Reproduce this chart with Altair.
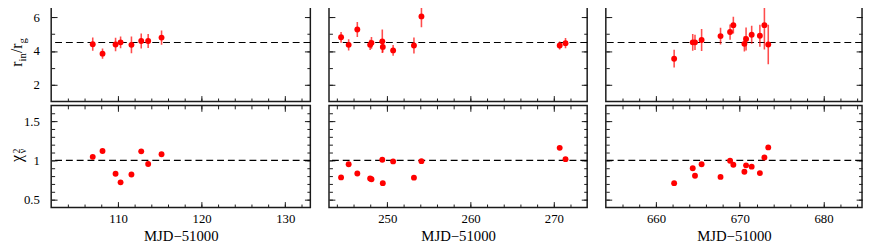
import altair as alt
import pandas as pd

FONT = "Liberation Serif"
RED = "#ff0000"
INK = "#1a1a1a"

# ---------------- data ----------------
mjd_1 = [106.97, 108.14, 109.70, 110.30, 111.60, 112.77, 113.60, 115.20]
rin_1 = [4.40, 3.84, 4.38, 4.51, 4.36, 4.59, 4.59, 4.79]
err_1 = [0.39, 0.31, 0.40, 0.35, 0.50, 0.45, 0.42, 0.42]
chi_1 = [1.045, 1.12, 0.83, 0.72, 0.82, 1.115, 0.954, 1.078]

mjd_2 = [244.45, 245.36, 246.40, 247.94, 248.10, 249.40, 249.46, 250.70, 253.20, 254.10, 270.70, 271.40]
rin_2 = [4.81, 4.36, 5.27, 4.36, 4.48, 4.57, 4.24, 4.03, 4.32, 6.05, 4.32, 4.46]
err_2 = [0.32, 0.33, 0.45, 0.30, 0.35, 0.70, 0.33, 0.32, 0.47, 0.65, 0.24, 0.30]
chi_2 = [0.783, 0.95, 0.833, 0.77, 0.76, 1.008, 0.71, 0.987, 0.78, 0.99, 1.16, 1.016]

mjd_3 = [662.16, 664.38, 664.65, 665.44, 667.70, 668.84, 669.23, 670.55, 670.75, 671.42, 672.40, 672.94, 673.40]
rin_3 = [3.54, 4.51, 4.51, 4.65, 4.88, 5.12, 5.53, 4.42, 4.71, 4.96, 4.90, 5.53, 4.38]
err_3 = [0.53, 0.50, 0.45, 0.65, 0.50, 0.45, 0.50, 0.45, 0.68, 0.53, 0.65, 1.45, 1.17]
chi_3 = [0.71, 0.90, 0.805, 0.95, 0.79, 0.995, 0.945, 0.855, 0.937, 0.92, 0.838, 1.037, 1.165]

rin_ref = 4.5
chi_ref = 1.0

x_domains = [[102, 133], [243, 274], [654, 684.6]]
x_major = [[110, 120, 130], [250, 260, 270], [660, 670, 680]]
x_minor = [
    [104, 106, 108, 110, 112, 114, 116, 118, 120, 122, 124, 126, 128, 130, 132],
    [244, 246, 248, 250, 252, 254, 256, 258, 260, 262, 264, 266, 268, 270, 272],
    [656, 658, 660, 662, 664, 666, 668, 670, 672, 674, 676, 678, 680, 682, 684],
]
rin_domain = [1, 7]
rin_major = [2, 4, 6]
rin_minor = [2, 3, 4, 5, 6]
chi_domain = [0.4, 1.7]
chi_major = [0.5, 1.0, 1.5]
chi_minor = [0.5, 0.6, 0.7, 0.8, 0.9, 1.0, 1.1, 1.2, 1.3, 1.4, 1.5, 1.6]
x_title = "MJD\u221251000"

widths = [264, 263, 261]
H_TOP = 103
H_BOT = 104

MAJ = 6
MIN = 3.5


def tick_axis(orient, values, size):
    return alt.Axis(orient=orient, values=values, labels=False, domain=False, grid=False,
                    ticks=True, tickSize={"expr": str(-size)}, title=None)


def title_piece(text, dx, dy, size):
    return alt.Chart(alt.Data(values=[{"t": 1}])).mark_text(
        text=text, angle=270, align="left", baseline="alphabetic",
        font=FONT, fontSize=size, color="black"
    ).encode(x=alt.value(dx), y=alt.value(dy))


def panel(df, ycol, xdom, ydom, xmaj, xmin, ymaj, ymin, w, h,
          xlabels, ylabels, ref, pieces, with_err):
    xs = alt.Scale(domain=xdom, nice=False, zero=False)
    ys = alt.Scale(domain=ydom, nice=False, zero=False)

    xaxes = []
    if xlabels:
        xaxes.append(alt.Axis(orient="bottom", values=xmaj, ticks=False, domain=False, grid=False,
                              labelPadding=5, labelFlush=False, title=x_title, titlePadding=4))
    xaxes += [tick_axis("bottom", xmaj, MAJ), tick_axis("bottom", xmin, MIN),
              tick_axis("top", xmaj, MAJ), tick_axis("top", xmin, MIN)]
    yaxes = []
    if ylabels:
        yaxes.append(alt.Axis(orient="left", values=ymaj, ticks=False, domain=False, grid=False,
                              labelPadding=12, format="~g", title=None))
    yaxes += [tick_axis("left", ymaj, MAJ), tick_axis("left", ymin, MIN),
              tick_axis("right", ymaj, MAJ), tick_axis("right", ymin, MIN)]
    n = max(len(xaxes), len(yaxes))
    xaxes += [None] * (n - len(xaxes))
    yaxes += [None] * (n - len(yaxes))

    base = alt.Chart(df)
    layers = []
    refdf = pd.DataFrame({"v": [ref]})
    layers.append(alt.Chart(refdf).mark_rule(color="black", strokeWidth=1.2, strokeDash=[7, 4]).encode(
        y=alt.Y("v:Q", scale=ys, axis=None)))
    if with_err:
        layers.append(base.mark_rule(color=RED, strokeWidth=1.6, opacity=0.7, clip=True).encode(
            x=alt.X("mjd:Q", scale=xs, axis=None),
            y=alt.Y("lo:Q", scale=ys, axis=None),
            y2="hi:Q"))
    layers.append(base.mark_circle(color=RED, size=36, opacity=1).encode(
        x=alt.X("mjd:Q", scale=xs, axis=None),
        y=alt.Y(f"{ycol}:Q", scale=ys, axis=None)))
    for xa, ya in zip(xaxes, yaxes):
        layers.append(base.mark_point(opacity=0).encode(
            x=alt.X("mjd:Q", scale=xs, axis=xa),
            y=alt.Y(f"{ycol}:Q", scale=ys, axis=ya)))
    for p in pieces:
        layers.append(title_piece(*p))
    return alt.layer(*layers).resolve_axis(x="independent", y="independent").properties(width=w, height=h)


sets = [(mjd_1, rin_1, err_1, chi_1), (mjd_2, rin_2, err_2, chi_2), (mjd_3, rin_3, err_3, chi_3)]

BX = -30
r_title = [("r", BX, 67.6, 16), ("in", BX + 4, 62.3, 11), ("/r", BX, 53.7, 16), ("g", BX + 4, 43.9, 11)]
chi_title = [("\u03c7", BX, 57.7, 16), ("2", BX - 2, 49.0, 10), ("\u03bd", BX + 4, 49.0, 11)]

cols = []
for i, (m, r, e, c) in enumerate(sets):
    df = pd.DataFrame({"mjd": m, "rin": r, "lo": [a - b for a, b in zip(r, e)],
                       "hi": [a + b for a, b in zip(r, e)], "chi": c})
    top = panel(df, "rin", x_domains[i], rin_domain, x_major[i], x_minor[i], rin_major, rin_minor,
                widths[i], H_TOP, False, i == 0, rin_ref, r_title if i == 0 else [], True)
    bot = panel(df, "chi", x_domains[i], chi_domain, x_major[i], x_minor[i], chi_major, chi_minor,
                widths[i], H_BOT, True, i == 0, chi_ref, chi_title if i == 0 else [], False)
    cols.append(alt.vconcat(top, bot, spacing=0))

chart = alt.hconcat(*cols, spacing=15).properties(
    padding={"left": 0, "top": -12, "right": 0, "bottom": 0}
).configure_axis(
    labelFont=FONT, titleFont=FONT, labelFontSize=13, titleFontSize=15,
    labelColor="black", titleColor="black", titleFontWeight="normal",
    tickColor=INK, tickWidth=1
).configure_view(stroke=INK, strokeWidth=1.5)

chart.save("out.html", embed_options={"renderer": "svg", "actions": False})
